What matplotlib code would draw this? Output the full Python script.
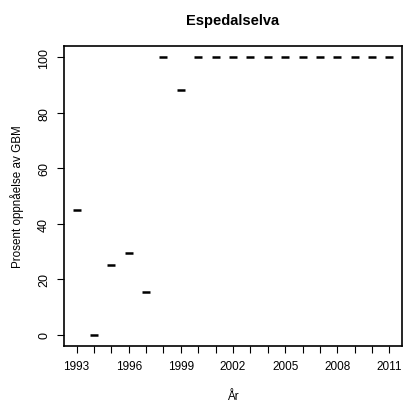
import matplotlib
matplotlib.use('Agg')
import matplotlib.pyplot as plt

# data
years = [1993, 1994, 1995, 1996, 1997, 1998, 1999, 2000, 2001, 2002,
         2003, 2004, 2005, 2006, 2007, 2008, 2009, 2010, 2011]
prosent = [45, 0, 25, 29.5, 15.5, 100, 88, 100, 100, 100,
           100, 100, 100, 100, 100, 100, 100, 100, 100]
xtick_labels = [1993, 1996, 1999, 2002, 2005, 2008, 2011]
ytick_labels = [0, 20, 40, 60, 80, 100]

plt.rcParams['font.family'] = ['Liberation Sans', 'DejaVu Sans']

fig = plt.figure(figsize=(4.06, 4.06), dpi=100)
ax = fig.add_axes([64 / 406, 1 - 347 / 406, 338 / 406, 300 / 406])

ax.plot(years, prosent, linestyle='none', marker='_', markersize=6,
        markeredgewidth=1.8, color='black')

ax.set_xlim(1992.28, 2011.72)
ax.set_ylim(-4, 104)

ax.set_xticks(years)
ax.set_xticklabels([str(y) if y in xtick_labels else '' for y in years])
ax.set_yticks(ytick_labels)
ax.set_yticklabels([str(v) for v in ytick_labels], rotation=90, va='center')

ax.tick_params(axis='x', labelsize=8.5, length=5, width=0.8, direction='out', pad=5)
ax.tick_params(axis='y', labelsize=9, length=5, width=0.8, direction='out', pad=5)
for s in ax.spines.values():
    s.set_linewidth(1.2)

ax.set_title('Espedalselva', fontsize=10.5, fontweight='bold', pad=16)
ax.set_xlabel('År', fontsize=8.5, labelpad=13)
ax.set_ylabel('Prosent oppnåelse av GBM', fontsize=8.4, labelpad=10)

fig.savefig('out.png', dpi=100)
